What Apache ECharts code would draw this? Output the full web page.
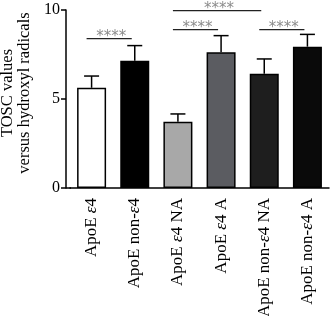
<!DOCTYPE html>
<html>
<head>
<meta charset="utf-8">
<script src="https://cdn.jsdelivr.net/npm/echarts@6/dist/echarts.min.js"></script>
<style>
  html, body { margin: 0; padding: 0; background: #fff; }
  #chart { width: 330px; height: 316px; }
</style>
</head>
<body>
<div id="chart"></div>
<script>
const categories = ['ApoE ε4', 'ApoE non-ε4', 'ApoE ε4 NA', 'ApoE ε4 A', 'ApoE non-ε4 NA', 'ApoE non-ε4 A'];
const means = [5.63, 7.15, 3.72, 7.62, 6.42, 7.94];
const errors = [0.66, 0.85, 0.44, 0.94, 0.83, 0.69];
const barColors = ['#ffffff', '#000000', '#a8a8a8', '#5b5c61', '#1e1e1e', '#0a0a0a'];
// significance brackets: [from index, to index, height]
const brackets = [[0, 1, 8.39], [2, 3, 8.9], [2, 4, 9.96], [4, 5, 8.9]];
const starText = '****';

const font = 'Liberation Serif';
const chart = echarts.init(document.getElementById('chart'));

const option = {
  animation: false,
  grid: { left: 70, right: 1, top: 10, bottom: 128, outerBoundsMode: 'none', containLabel: false },
  xAxis: {
    type: 'category',
    data: categories,
    axisLine: { lineStyle: { color: '#000', width: 1.5 } },
    axisTick: { alignWithLabel: true, length: 5, lineStyle: { color: '#000', width: 1.5 } },
    axisLabel: {
      rotate: 90,
      margin: 10,
      color: '#000',
      fontFamily: font,
      fontSize: 17,
      formatter: v => v.replace('ε', '{e|ε}'),
      rich: { e: { fontStyle: 'italic', fontFamily: font, fontSize: 17, color: '#000' } }
    }
  },
  yAxis: {
    type: 'value',
    min: 0, max: 10, interval: 5,
    offset: 4,
    name: 'TOSC values\nversus hydroxyl radicals',
    nameLocation: 'middle',
    nameRotate: 90,
    nameGap: 28,
    nameTextStyle: { fontFamily: font, fontSize: 16.5, color: '#000', lineHeight: 17, padding: [0, 0, 0, 12] },
    axisLine: { show: true, lineStyle: { color: '#000', width: 1.5 } },
    axisTick: { show: true, length: 5, lineStyle: { color: '#000', width: 1.5 } },
    axisLabel: { color: '#000', fontFamily: font, fontSize: 16, margin: 6 },
    splitLine: { show: false }
  },
  graphic: [{
    type: 'line', shape: { x1: 66, y1: 188, x2: 71, y2: 188 },
    style: { stroke: '#000', lineWidth: 1.5 }
  }],
  series: [
    {
      type: 'bar',
      barWidth: 29,
      data: means.map((v, i) => ({
        value: v,
        itemStyle: { color: barColors[i], borderColor: '#000', borderWidth: 1.5 }
      })),
      z: 2
    },
    {
      type: 'custom',
      z: 3,
      data: means.map((v, i) => [i, v, errors[i]]),
      renderItem: (params, api) => {
        const i = api.value(0), v = api.value(1), e = api.value(2);
        const p0 = api.coord([i, v]);
        const p1 = api.coord([i, v + e]);
        const style = { stroke: '#000', lineWidth: 1.5 };
        return {
          type: 'group',
          children: [
            { type: 'line', shape: { x1: p0[0], y1: p0[1], x2: p1[0], y2: p1[1] }, style },
            { type: 'line', shape: { x1: p1[0] - 7.5, y1: p1[1], x2: p1[0] + 7.5, y2: p1[1] }, style }
          ]
        };
      }
    },
    {
      type: 'custom',
      z: 3,
      data: brackets,
      renderItem: (params, api) => {
        const a = api.coord([api.value(0), api.value(2)]);
        const b = api.coord([api.value(1), api.value(2)]);
        const x1 = a[0] - 5, x2 = b[0] - 3;
        return {
          type: 'group',
          children: [
            { type: 'line', shape: { x1, y1: a[1], x2, y2: a[1] }, style: { stroke: '#222', lineWidth: 1.2 } },
            {
              type: 'text',
              style: {
                text: starText, x: (x1 + x2) / 2 + 2, y: a[1] - 1.5,
                align: 'center', verticalAlign: 'middle',
                fill: '#8c8c8c', font: '15px "DejaVu Sans"'
              }
            }
          ]
        };
      }
    }
  ]
};

chart.setOption(option);
</script>
</body>
</html>
